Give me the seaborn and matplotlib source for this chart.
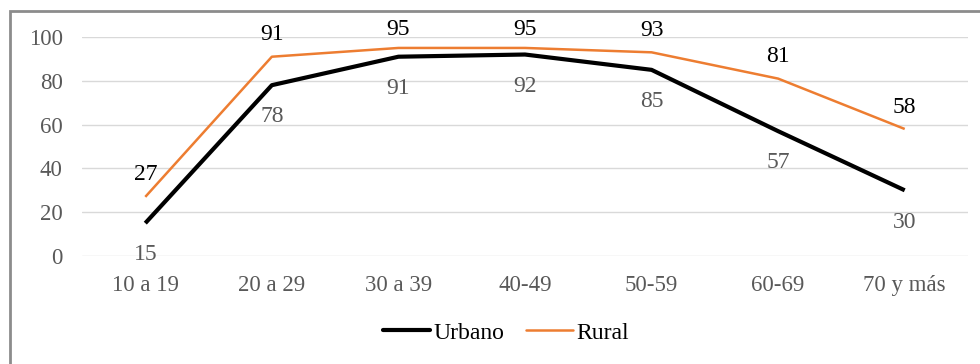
import matplotlib
matplotlib.use("Agg")
import matplotlib.pyplot as plt
from matplotlib.patches import Rectangle
import pandas as pd
import seaborn as sns

# Age groups and the share for each area
grupos = ["10 a 19", "20 a 29", "30 a 39", "40-49", "50-59", "60-69", "70 y más"]
urbano = [15, 78, 91, 92, 85, 57, 30]
rural = [27, 91, 95, 95, 93, 81, 58]

df = pd.DataFrame({
    "grupo": grupos * 2,
    "valor": urbano + rural,
    "zona": ["Urbano"] * len(grupos) + ["Rural"] * len(grupos),
})

sns.set_theme(style="white")
plt.rcParams["font.family"] = ["Liberation Serif", "DejaVu Serif"]

fig = plt.figure(figsize=(9.8, 3.64), dpi=100)
ax = fig.add_axes([82 / 980, 1 - 256 / 364, 886 / 980, 219 / 364])

sns.lineplot(data=df, x="grupo", y="valor", hue="zona",
             palette={"Urbano": "#000000", "Rural": "#ED7D31"},
             sort=False, ax=ax, legend=False)
for line, lw in zip(ax.lines, [3.0, 1.8]):
    line.set_linewidth(lw)
    line.set_solid_capstyle("butt")

ax.set_xlim(-0.5, 6.5)
ax.set_ylim(0, 100)
ax.set_yticks(range(0, 101, 20))
ax.yaxis.grid(True, color="#D9D9D9", linewidth=1.0)
ax.set_axisbelow(True)
for s in ax.spines.values():
    s.set_visible(False)
ax.set_xlabel("")
ax.set_ylabel("")
ax.tick_params(axis="both", length=0, labelsize=16.5, labelcolor="#595959")
ax.tick_params(axis="y", pad=14)
ax.tick_params(axis="x", pad=14)

# Value labels: urban below the line, rural above
for i, (u, r) in enumerate(zip(urbano, rural)):
    ax.text(i, u - 14.5, str(u), ha="center", va="center",
            fontsize=17, color="#595959")
    ax.text(i, min(r + 10, 103.2), str(r), ha="center", va="center",
            fontsize=17, color="#000000")

handles = [plt.Line2D([], [], color="#000000", lw=3.0),
           plt.Line2D([], [], color="#ED7D31", lw=1.8)]
fig.legend(handles, ["Urbano", "Rural"], loc="center",
           bbox_to_anchor=(506 / 980, 1 - 333 / 364), ncol=2, frameon=False,
           fontsize=17, handlelength=2.0, handletextpad=0.15,
           columnspacing=0.9, labelcolor="#000000")

# Chart frame
fig.patches.append(Rectangle((10 / 980, -0.1), 1.2, (1 - 11 / 364) + 0.1,
                             transform=fig.transFigure, fill=False,
                             edgecolor="#8C8C8C", linewidth=2.0))

fig.savefig("out.png", dpi=100)
